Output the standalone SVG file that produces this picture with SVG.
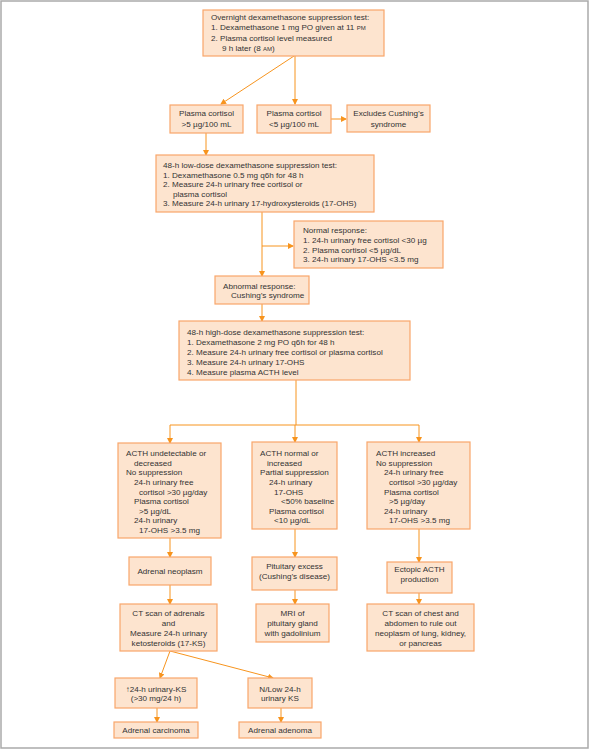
<svg xmlns="http://www.w3.org/2000/svg" width="589" height="750" viewBox="0 0 589 750">
<defs>
<marker id="ah" markerWidth="6" markerHeight="6" refX="5" refY="3" orient="auto" markerUnits="userSpaceOnUse">
<path d="M0,0 L6,3 L0,6 Z" fill="#f7941e"/>
</marker>
<style>
.box{fill:#fde4cf;stroke:#f8a66a;stroke-width:1.2}
.t{font-family:"Liberation Sans",Arial,sans-serif;font-size:8.1px;fill:#333333}
.c{text-anchor:middle}
.sc{font-size:6px}
.ln{stroke:#f7941e;stroke-width:1;fill:none}
.ar{stroke:#f7941e;stroke-width:1;fill:none;marker-end:url(#ah)}
</style>
</defs>
<rect x="0" y="0" width="589" height="750" fill="#ffffff"/>
<rect x="1" y="1" width="587" height="747" fill="none" stroke="#aaaaaa" stroke-width="1.5"/>

<g id="connectors">
<line class="ar" x1="294" y1="56" x2="221" y2="104"/>
<line class="ar" x1="295" y1="56" x2="295" y2="104"/>
<line class="ar" x1="331" y1="119" x2="346" y2="119"/>
<line class="ar" x1="206" y1="133" x2="206" y2="155"/>
<line class="ar" x1="262" y1="212" x2="262" y2="276"/>
<line class="ar" x1="262" y1="246" x2="293" y2="246"/>
<line class="ar" x1="262" y1="304" x2="262" y2="321"/>
<line class="ln" x1="296" y1="380" x2="296" y2="425"/>
<line class="ln" x1="170" y1="425" x2="419" y2="425"/>
<line class="ar" x1="170" y1="425" x2="170" y2="443"/>
<line class="ar" x1="295" y1="425" x2="295" y2="442"/>
<line class="ar" x1="419" y1="425" x2="419" y2="442"/>
<line class="ar" x1="170" y1="538" x2="170" y2="557"/>
<line class="ar" x1="295" y1="529" x2="295" y2="557"/>
<line class="ar" x1="419" y1="529" x2="419" y2="562"/>
<line class="ar" x1="170" y1="585" x2="170" y2="604"/>
<line class="ar" x1="295" y1="590" x2="295" y2="604"/>
<line class="ar" x1="419" y1="593" x2="419" y2="604"/>
<line class="ar" x1="170" y1="651" x2="160" y2="678"/>
<line class="ar" x1="170" y1="651" x2="273" y2="678"/>
<line class="ar" x1="157" y1="708" x2="157" y2="722"/>
<line class="ar" x1="281" y1="708" x2="281" y2="722"/>
</g>

<g id="n1">
<rect class="box" x="203" y="10" width="181" height="46"/>
<text class="t" x="211" y="19.5">Overnight dexamethasone suppression test:</text>
<text class="t" x="211" y="30">1. Dexamethasone 1 mg PO given at 11 <tspan class="sc">PM</tspan></text>
<text class="t" x="211" y="40.5">2. Plasma cortisol level measured</text>
<text class="t" x="222" y="51">9 h later (8 <tspan class="sc">AM</tspan>)</text>
</g>

<g id="n2a">
<rect class="box" x="170" y="105" width="73" height="28"/>
<text class="t c" x="206.5" y="116">Plasma cortisol</text>
<text class="t c" x="206.5" y="127">&gt;5 µg/100 mL</text>
</g>
<g id="n2b">
<rect class="box" x="257" y="105" width="74" height="28"/>
<text class="t c" x="294" y="116">Plasma cortisol</text>
<text class="t c" x="294" y="127">&lt;5 µg/100 mL</text>
</g>
<g id="n2c">
<rect class="box" x="347" y="105" width="83" height="27"/>
<text class="t c" x="388.5" y="116">Excludes Cushing’s</text>
<text class="t c" x="388.5" y="127">syndrome</text>
</g>

<g id="n3">
<rect class="box" x="156" y="155" width="218" height="57"/>
<text class="t" x="163" y="168">48-h low-dose dexamethasone suppression test:</text>
<text class="t" x="163" y="177.5">1. Dexamethasone 0.5 mg q6h for 48 h</text>
<text class="t" x="163" y="187">2. Measure 24-h urinary free cortisol or</text>
<text class="t" x="173" y="196.5">plasma cortisol</text>
<text class="t" x="163" y="206">3. Measure 24-h urinary 17-hydroxysteroids (17-OHS)</text>
</g>

<g id="n4">
<rect class="box" x="294" y="221" width="149" height="47"/>
<text class="t" x="303" y="233">Normal response:</text>
<text class="t" x="303" y="243">1. 24-h urinary free cortisol &lt;30 µg</text>
<text class="t" x="303" y="252.5">2. Plasma cortisol &lt;5 µg/dL</text>
<text class="t" x="303" y="262">3. 24-h urinary 17-OHS &lt;3.5 mg</text>
</g>

<g id="n5">
<rect class="box" x="215" y="276" width="94" height="28"/>
<text class="t" x="223" y="289">Abnormal response:</text>
<text class="t" x="231" y="298">Cushing’s syndrome</text>
</g>

<g id="n6">
<rect class="box" x="179" y="321" width="231" height="59"/>
<text class="t" x="187" y="335">48-h high-dose dexamethasone suppression test:</text>
<text class="t" x="187" y="345">1. Dexamethasone 2 mg PO q6h for 48 h</text>
<text class="t" x="187" y="355">2. Measure 24-h urinary free cortisol or plasma cortisol</text>
<text class="t" x="187" y="365">3. Measure 24-h urinary 17-OHS</text>
<text class="t" x="187" y="374.5">4. Measure plasma ACTH level</text>
</g>

<g id="n7a">
<rect class="box" x="118" y="443" width="103" height="95"/>
<text class="t" x="126" y="456">ACTH undetectable or</text>
<text class="t" x="134" y="465.5">decreased</text>
<text class="t" x="126" y="475">No suppression</text>
<text class="t" x="134" y="485">24-h urinary free</text>
<text class="t" x="139" y="494.5">cortisol &gt;30 µg/day</text>
<text class="t" x="134" y="504">Plasma cortisol</text>
<text class="t" x="139" y="513.5">&gt;5 µg/dL</text>
<text class="t" x="134" y="523">24-h urinary</text>
<text class="t" x="139" y="533">17-OHS &gt;3.5 mg</text>
</g>

<g id="n7b">
<rect class="box" x="252" y="442" width="85" height="87"/>
<text class="t" x="260" y="456">ACTH normal or</text>
<text class="t" x="267" y="465.5">increased</text>
<text class="t" x="260" y="475">Partial suppression</text>
<text class="t" x="269" y="485">24-h urinary</text>
<text class="t" x="274" y="494.5">17-OHS</text>
<text class="t" x="281" y="504">&lt;50% baseline</text>
<text class="t" x="269" y="513.5">Plasma cortisol</text>
<text class="t" x="274" y="523">&lt;10 µg/dL</text>
</g>

<g id="n7c">
<rect class="box" x="367" y="442" width="103" height="87"/>
<text class="t" x="376" y="456">ACTH increased</text>
<text class="t" x="376" y="465.5">No suppression</text>
<text class="t" x="384" y="475">24-h urinary free</text>
<text class="t" x="389" y="485">cortisol &gt;30 µg/day</text>
<text class="t" x="384" y="494.5">Plasma cortisol</text>
<text class="t" x="389" y="504">&gt;5 µg/day</text>
<text class="t" x="384" y="513.5">24-h urinary</text>
<text class="t" x="389" y="523">17-OHS &gt;3.5 mg</text>
</g>

<g id="n8a">
<rect class="box" x="129" y="557" width="82" height="28"/>
<text class="t c" x="170" y="574">Adrenal neoplasm</text>
</g>
<g id="n8b">
<rect class="box" x="252" y="557" width="85" height="33"/>
<text class="t c" x="294.5" y="569">Pituitary excess</text>
<text class="t c" x="294.5" y="579">(Cushing’s disease)</text>
</g>
<g id="n8c">
<rect class="box" x="387" y="562" width="65" height="31"/>
<text class="t c" x="419.5" y="572">Ectopic ACTH</text>
<text class="t c" x="419.5" y="582">production</text>
</g>

<g id="n9a">
<rect class="box" x="120" y="604" width="97" height="47"/>
<text class="t c" x="168.5" y="616">CT scan of adrenals</text>
<text class="t c" x="168.5" y="626">and</text>
<text class="t c" x="168.5" y="636">Measure 24-h urinary</text>
<text class="t c" x="168.5" y="645.5">ketosteroids (17-KS)</text>
</g>
<g id="n9b">
<rect class="box" x="256" y="604" width="73" height="38"/>
<text class="t c" x="292.5" y="616">MRI of</text>
<text class="t c" x="292.5" y="626">pituitary gland</text>
<text class="t c" x="292.5" y="636">with gadolinium</text>
</g>
<g id="n9c">
<rect class="box" x="367" y="604" width="107" height="47"/>
<text class="t c" x="420.5" y="616">CT scan of chest and</text>
<text class="t c" x="420.5" y="626">abdomen to rule out</text>
<text class="t c" x="420.5" y="636">neoplasm of lung, kidney,</text>
<text class="t c" x="420.5" y="645.5">or pancreas</text>
</g>

<g id="n10a">
<rect class="box" x="115" y="678" width="82" height="30"/>
<text class="t c" x="156" y="692">↑24-h urinary-KS</text>
<text class="t c" x="156" y="701">(&gt;30 mg/24 h)</text>
</g>
<g id="n10b">
<rect class="box" x="248" y="678" width="64" height="30"/>
<text class="t c" x="280" y="692">N/Low 24-h</text>
<text class="t c" x="280" y="701">urinary KS</text>
</g>

<g id="n11a">
<rect class="box" x="114" y="722" width="84" height="16"/>
<text class="t c" x="156" y="733">Adrenal carcinoma</text>
</g>
<g id="n11b">
<rect class="box" x="239" y="722" width="82" height="16"/>
<text class="t c" x="280" y="733">Adrenal adenoma</text>
</g>
</svg>
